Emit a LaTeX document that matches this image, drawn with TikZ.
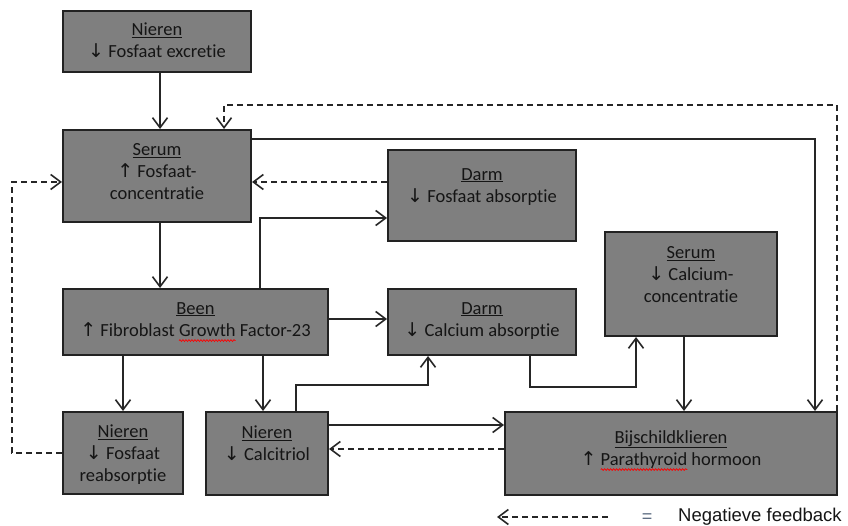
\documentclass[tikz,border=0pt]{standalone}
\usepackage{fontspec}
\setmainfont{Carlito}[Ligatures=NoCommon]
\newfontfamily\arrfont{DejaVu Sans}
\newfontfamily\legfont{Liberation Sans}
\usetikzlibrary{arrows.meta,decorations.pathmorphing}
\definecolor{boxfill}{HTML}{7F7F7F}
\definecolor{boxline}{HTML}{222222}
\definecolor{txt}{HTML}{151515}
\definecolor{lin}{HTML}{262626}
\definecolor{eqcol}{HTML}{5A6A80}
\newcommand\arrUp{{\arrfont\fontsize{19}{22}\selectfont\char"2191}}
\newcommand\arrDown{{\arrfont\fontsize{19}{22}\selectfont\char"2193}}
\newsavebox\squigbox
\newcommand\squig[1]{\sbox\squigbox{#1}\leavevmode\rlap{\tikz[overlay,baseline=0pt,x=1pt,y=1pt]\draw[red, solid, line width=0.7pt, decorate, decoration={snake, amplitude=0.9pt, segment length=3pt}] (0,-4.5) -- (\the\wd\squigbox,-4.5);}\usebox\squigbox}
\tikzset{
  box/.style={rectangle, draw=boxline, line width=2pt, fill=boxfill, inner sep=0pt},
  lbl/.style={anchor=north, align=center, inner sep=0pt, text=txt, font=\fontsize{18.5}{22}\selectfont},
  arr/.style={draw=lin, line width=1.6pt, -{Straight Barb[length=10pt,width=15pt]}},
  dfb/.style={arr, dash pattern=on 6pt off 4pt},
}
\begin{document}
\begin{tikzpicture}[x=1pt,y=-1pt]
\useasboundingbox (0,0) rectangle (848,526);
% boxes
\node[box, minimum width=188pt, minimum height=61pt] (NT) at (157,41.5) {};
\node[box, minimum width=188pt, minimum height=92pt] (S1) at (157,176) {};
\node[box, minimum width=188pt, minimum height=91pt] (DF) at (482,195.5) {};
\node[box, minimum width=172pt, minimum height=104pt] (SC) at (691,284) {};
\node[box, minimum width=265pt, minimum height=66pt] (B) at (195.5,322) {};
\node[box, minimum width=188pt, minimum height=66pt] (DC) at (482,322) {};
\node[box, minimum width=120pt, minimum height=82pt] (NR) at (123,453) {};
\node[box, minimum width=122pt, minimum height=83pt] (NC) at (267,453.5) {};
\node[box, minimum width=332pt, minimum height=83pt] (BK) at (671,453.5) {};
% labels
\node[lbl] (tNT) at ([yshift=-13pt]NT.north) {\underline{Nieren}\\\arrDown\ Fosfaat excretie};
\node[lbl] (tS1) at ([yshift=-14pt]S1.north) {\underline{Serum}\\\arrUp\ Fosfaat-\\concentratie};
\node[lbl] (tDF) at ([yshift=-19pt]DF.north) {\underline{Darm}\\\arrDown\ Fosfaat absorptie};
\node[lbl] (tSC) at ([yshift=-15pt]SC.north) {\underline{Serum}\\\arrDown\ Calcium-\\concentratie};
\node[lbl] (tB) at ([yshift=-14pt]B.north) {\underline{Been}\\\arrUp\ Fibroblast \squig{Growth} Factor-23};
\node[lbl] (tDC) at ([yshift=-14pt]DC.north) {\underline{Darm}\\\arrDown\ Calcium absorptie};
\node[lbl] (tNR) at ([yshift=-14pt]NR.north) {\underline{Nieren}\\\arrDown\ Fosfaat\\reabsorptie};
\node[lbl] (tNC) at ([yshift=-15pt]NC.north) {\underline{Nieren}\\\arrDown\ Calcitriol};
\node[lbl] (tBK) at ([yshift=-19pt]BK.north) {\underline{Bijschildklieren}\\\arrUp\ \squig{Parathyroid} hormoon};
% connectors
\draw[arr] ([xshift=3pt]NT.south) -- ([xshift=3pt]S1.north);
\draw[dfb] ([xshift=-1pt]BK.north east) -- ++(0,-306) -| ([xshift=67pt]S1.north);
\draw[arr] ([yshift=-10pt]S1.north east) -| ([xshift=144pt]BK.north);
\draw[dfb] ([yshift=13.5pt]DF.west) -- ([yshift=13.5pt]DF.west -| S1.east);
\draw[arr] ([xshift=64.5pt]B.north) |- ([yshift=-22.5pt]DF.west);
\draw[arr] ([xshift=3pt]S1.south) -- ([xshift=3pt]S1.south |- B.north);
\draw[arr] ([yshift=3pt]B.east) -- ([yshift=3pt]B.east -| DC.west);
\draw[arr] (NR.north |- B.south) -- (NR.north);
\draw[arr] ([xshift=-4pt]NC.north |- B.south) -- ([xshift=-4pt]NC.north);
\draw[arr] ([xshift=29pt]NC.north) -- ++(0,-26) -| ([xshift=-54pt]DC.south);
\draw[arr] ([xshift=48pt]DC.south) -- ++(0,31) -| ([xshift=-55pt]SC.south);
\draw[arr] ([xshift=-7pt]SC.south) -- ([xshift=-7pt]SC.south |- BK.north);
\draw[arr] ([yshift=28.5pt]NC.east) -- ([yshift=28.5pt]NC.east -| BK.west);
\draw[dfb] ([yshift=4.5pt]BK.west) -- ([yshift=4.5pt]BK.west -| NC.east);
\draw[dfb] (NR.west) -- ++(-50,0) |- ([yshift=-6pt]S1.west);
% legend
\coordinate (legR) at (608,517);
\coordinate (legL) at (497,517);
\draw[dfb] (legR) -- (legL);
\node[text=eqcol, font=\legfont\fontsize{18}{20}\selectfont, inner sep=0pt] (eq) at (647,518) {=};
\node[anchor=west, text=txt, font=\legfont\fontsize{18.5}{20}\selectfont, inner sep=0pt] (negfb) at (678,517) {Negatieve feedback};
\end{tikzpicture}
\end{document}
